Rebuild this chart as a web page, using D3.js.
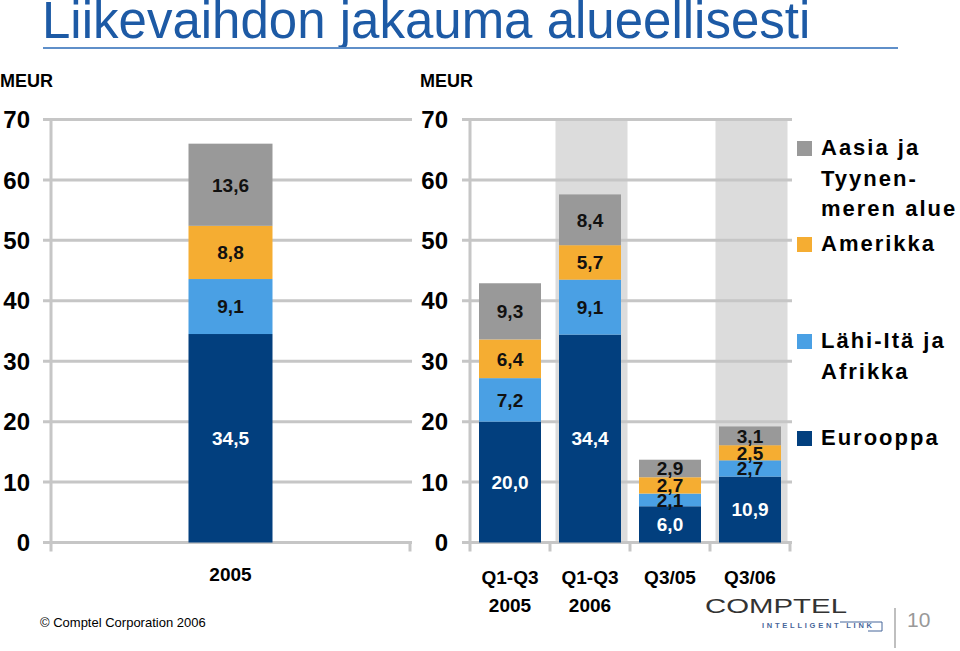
<!DOCTYPE html>
<html>
<head>
<meta charset="utf-8">
<script src="https://cdn.jsdelivr.net/npm/d3@7"></script>
<style>
  body { margin: 0; background: #fff; }
  svg { display: block; font-family: "Liberation Sans", Arial, sans-serif; }
</style>
</head>
<body>
<svg id="vis" width="960" height="651"></svg>
<script>
// data
let series = ["Eurooppa", "Lahi", "Amerikka", "Aasia"]
let colors = ["#023f7e", "#4aa0e4", "#f5ad32", "#999999"]
let legendLabels = [["Aasia ja", "Tyynen-", "meren alue"], ["Amerikka"], ["Lähi-Itä ja", "Afrikka"], ["Eurooppa"]]

let yearCats = ["2005"]
let yearEurooppa = [34.5]
let yearLahi = [9.1]
let yearAmerikka = [8.8]
let yearAasia = [13.6]

let periodCats = ["Q1-Q3 2005", "Q1-Q3 2006", "Q3/05", "Q3/06"]
let periodLabels = [["Q1-Q3", "2005"], ["Q1-Q3", "2006"], ["Q3/05"], ["Q3/06"]]
let periodEurooppa = [20.0, 34.4, 6.0, 10.9]
let periodLahi = [7.2, 9.1, 2.1, 2.7]
let periodAmerikka = [6.4, 5.7, 2.7, 2.5]
let periodAasia = [9.3, 8.4, 2.9, 3.1]

let yTicks = [0, 10, 20, 30, 40, 50, 60, 70]

let fmt = v => d3.format(".1f")(v).replace(".", ",")

let svg = d3.select("#vis")

// title
svg.append("text")
    .attr("x", 42).attr("y", 38)
    .attr("font-size", 51)
    .attr("fill", "#1d5aa5")
    .text("Liikevaihdon jakauma alueellisesti")
svg.append("line")
    .attr("x1", 43).attr("x2", 898)
    .attr("y1", 48).attr("y2", 48)
    .attr("stroke", "#5f8fc9").attr("stroke-width", 2)

let y = d3.scaleLinear().domain([0, 70]).range([542.5, 119.5])

function rows(cats, e, l, a, s) {
    return cats.map((c, i) => ({cat: c, Eurooppa: e[i], Lahi: l[i], Amerikka: a[i], Aasia: s[i]}))
}

function panel(cfg) {
    let g = svg.append("g")
    let x = d3.scaleBand().domain(cfg.cats).range([cfg.x0, cfg.x1])
    let bw = x.bandwidth()
    let barW = bw * cfg.ratio

    g.append("text")
        .attr("x", cfg.meurX).attr("y", 87)
        .attr("font-size", 18).attr("font-weight", "bold")
        .text("MEUR")

    // shaded columns
    g.selectAll("rect.shade")
        .data(cfg.shaded)
        .join("rect")
        .attr("class", "shade")
        .attr("x", d => x(cfg.cats[d]) + 5.5)
        .attr("width", bw - 8)
        .attr("y", y(70) + 1.5)
        .attr("height", y(0) - y(70) - 1.5)
        .attr("fill", "#dcdcdc")

    // grid
    g.selectAll("line.grid")
        .data(yTicks)
        .join("line")
        .attr("x1", cfg.x0 - 8).attr("x2", cfg.x1 + 2)
        .attr("y1", d => y(d)).attr("y2", d => y(d))
        .attr("stroke", "#c6c6c6").attr("stroke-width", 3)

    g.append("line")
        .attr("x1", cfg.x0).attr("x2", cfg.x0)
        .attr("y1", y(70)).attr("y2", y(0) + 9)
        .attr("stroke", "#c6c6c6").attr("stroke-width", 3)

    g.selectAll("line.tick")
        .data(cfg.cats)
        .join("line")
        .attr("x1", d => x(d) + bw).attr("x2", d => x(d) + bw)
        .attr("y1", y(0)).attr("y2", y(0) + 9)
        .attr("stroke", "#c6c6c6").attr("stroke-width", 3)

    g.selectAll("text.ytick")
        .data(yTicks)
        .join("text")
        .attr("x", cfg.tickX).attr("y", d => y(d))
        .attr("dy", "0.36em")
        .attr("text-anchor", "end")
        .attr("font-size", 24).attr("font-weight", "bold")
        .text(d => d)

    let stacked = d3.stack().keys(series)(cfg.data)

    let layer = g.selectAll("g.layer")
        .data(stacked)
        .join("g")
        .attr("fill", (d, i) => colors[i])

    layer.selectAll("rect")
        .data(d => d)
        .join("rect")
        .attr("x", d => x(d.data.cat) + (bw - barW) / 2)
        .attr("width", barW)
        .attr("y", d => y(d[1]))
        .attr("height", d => y(d[0]) - y(d[1]))

    layer.selectAll("text")
        .data(d => d.map(p => ({p: p, key: d.key})))
        .join("text")
        .attr("x", d => x(d.p.data.cat) + bw / 2)
        .attr("y", d => y((d.p[0] + d.p[1]) / 2))
        .attr("dy", "0.36em")
        .attr("text-anchor", "middle")
        .attr("font-size", 19).attr("font-weight", "bold")
        .attr("fill", d => d.key == "Eurooppa" ? "#fff" : "#111")
        .text(d => fmt(d.p.data[d.key]))

    g.selectAll("text.xlab")
        .data(cfg.cats)
        .join("text")
        .attr("class", "xlab")
        .attr("x", d => x(d) + bw / 2)
        .attr("y", cfg.xlabY)
        .attr("text-anchor", "middle")
        .attr("font-size", 19).attr("font-weight", "bold")
        .selectAll("tspan")
        .data((d, i) => cfg.labels[i])
        .join("tspan")
        .attr("x", function() { return this.parentNode.getAttribute("x") })
        .attr("dy", (d, i) => i == 0 ? 0 : 28)
        .text(d => d)
}

panel({
    cats: yearCats, labels: [["2005"]],
    data: rows(yearCats, yearEurooppa, yearLahi, yearAmerikka, yearAasia),
    x0: 51, x1: 410, ratio: 84 / 359, shaded: [],
    tickX: 30, meurX: 0, xlabY: 581
})

panel({
    cats: periodCats, labels: periodLabels,
    data: rows(periodCats, periodEurooppa, periodLahi, periodAmerikka, periodAasia),
    x0: 470, x1: 790, ratio: 62 / 80, shaded: [1, 3],
    tickX: 448, meurX: 420, xlabY: 584
})

// legend (top to bottom: Aasia, Amerikka, Lähi-Itä, Eurooppa)
let legendY = [155, 251, 348, 445]
let legend = svg.append("g")
    .selectAll("g")
    .data(legendLabels)
    .join("g")
    .attr("transform", (d, i) => `translate(797,${legendY[i]})`)

legend.append("rect")
    .attr("x", 0).attr("y", -14)
    .attr("width", 15).attr("height", 15)
    .attr("fill", (d, i) => colors[3 - i])

legend.append("text")
    .attr("font-size", 22).attr("font-weight", "bold")
    .attr("letter-spacing", 2)
    .selectAll("tspan")
    .data(d => d)
    .join("tspan")
    .attr("x", 24)
    .attr("dy", (d, i) => i == 0 ? 0 : 30.5)
    .text(d => d)

// footer
svg.append("text")
    .attr("x", 40).attr("y", 627)
    .attr("font-size", 13)
    .text("© Comptel Corporation 2006")

let logo = svg.append("g")
logo.append("text")
    .attr("x", 705).attr("y", 613)
    .attr("font-size", 21)
    .attr("fill", "#333")
    .attr("textLength", 142).attr("lengthAdjust", "spacingAndGlyphs")
    .text("COMPTEL")
logo.append("text")
    .attr("x", 762).attr("y", 628)
    .attr("font-size", 7.5).attr("font-weight", "bold")
    .attr("fill", "#47669a")
    .attr("textLength", 110).attr("lengthAdjust", "spacing")
    .text("INTELLIGENT LINK")
logo.append("path")
    .attr("d", "M840,622 H882 V631 H868")
    .attr("fill", "none").attr("stroke", "#47669a").attr("stroke-width", 1)

svg.append("line")
    .attr("x1", 895).attr("x2", 895)
    .attr("y1", 608).attr("y2", 648)
    .attr("stroke", "#aaa").attr("stroke-width", 1.5)
svg.append("text")
    .attr("x", 907).attr("y", 627)
    .attr("font-size", 21)
    .attr("fill", "#999")
    .text("10")
</script>
</body>
</html>
